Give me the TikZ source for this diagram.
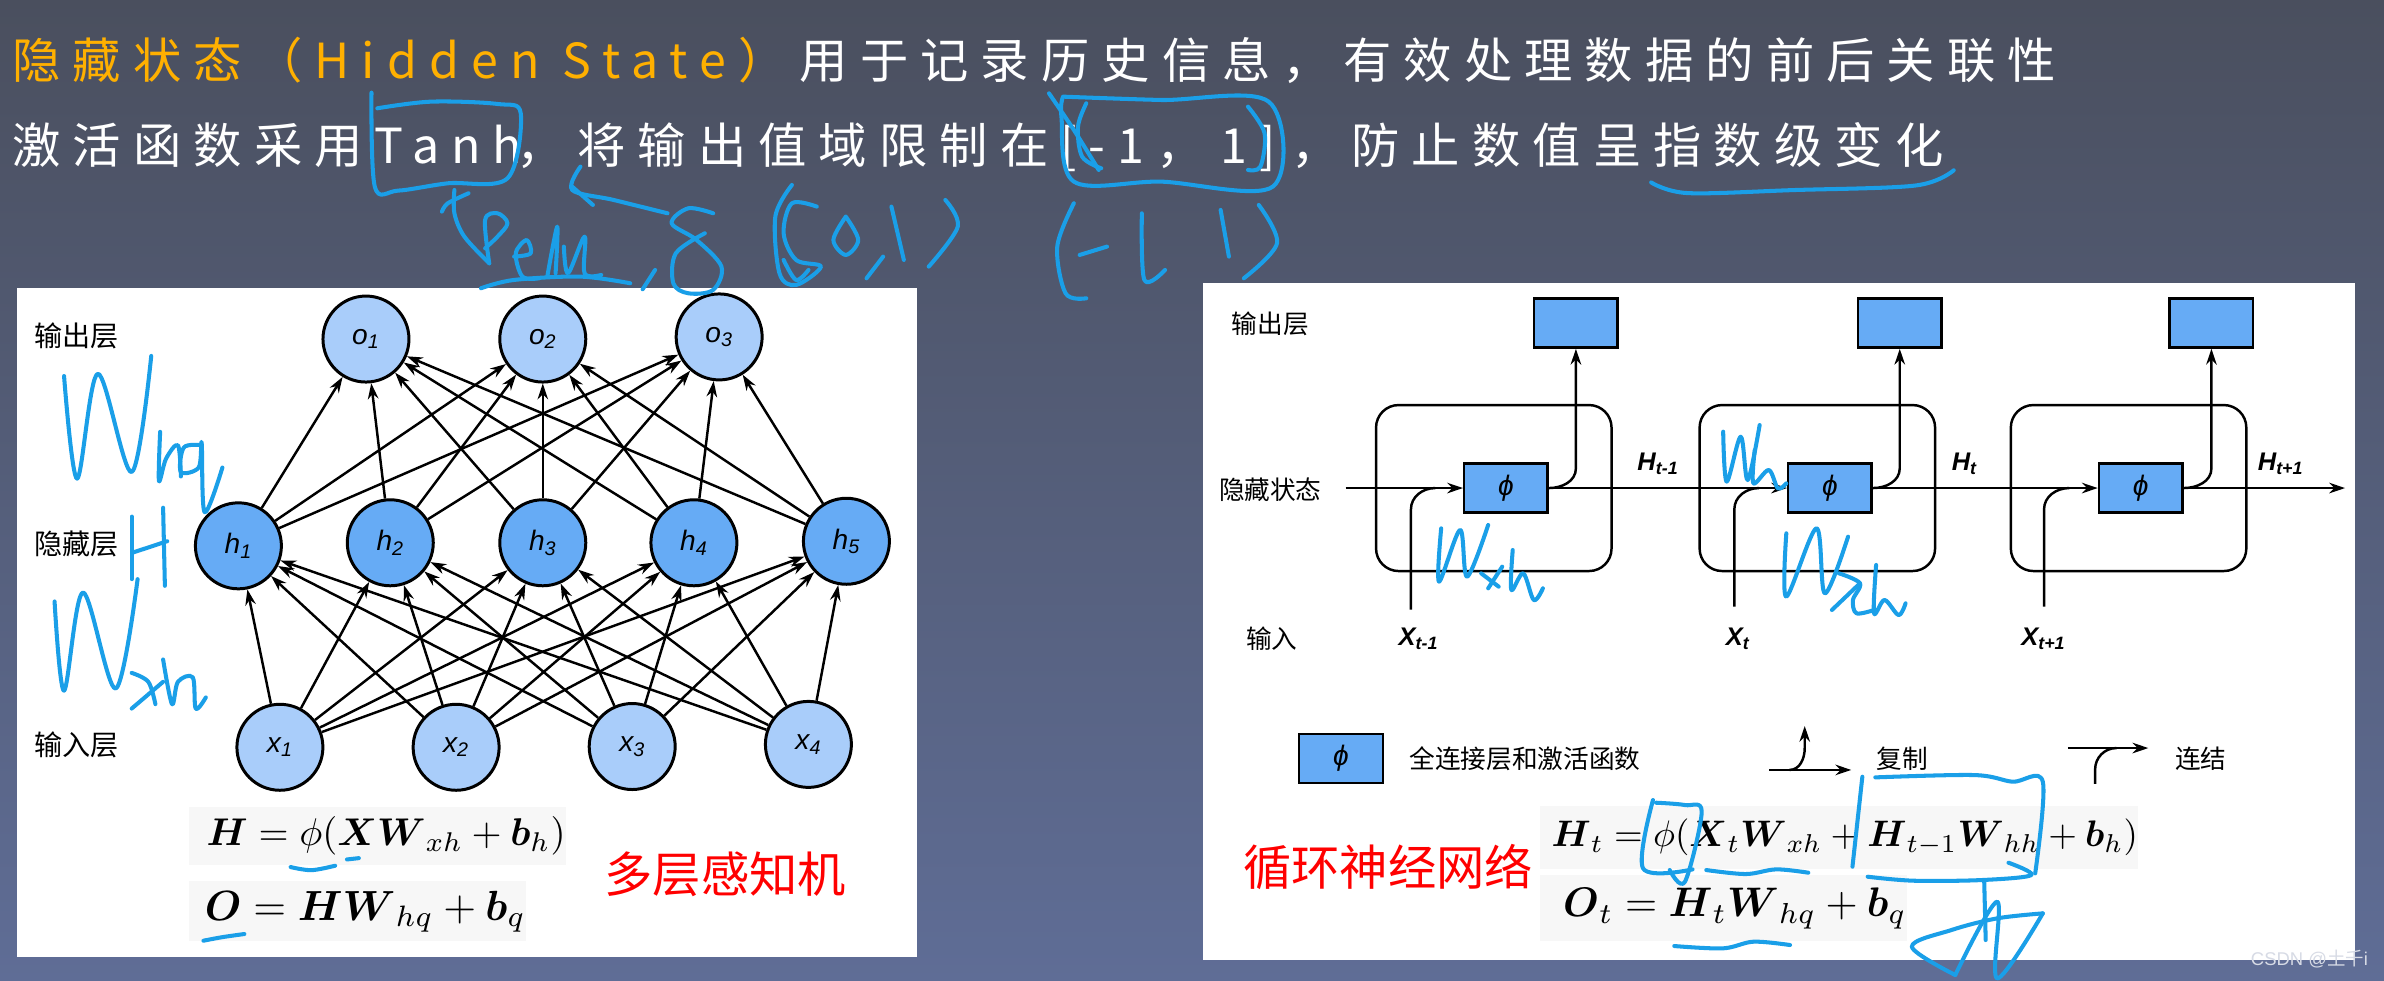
\documentclass[tikz,border=0pt]{standalone}
\usepackage{amsmath}
\usepackage{amssymb}
\usepackage{xcolor}
\usepackage{fontspec}
\usepackage{tikz}
\usetikzlibrary{arrows.meta, positioning}

\setmainfont{Liberation Sans}
\newfontfamily\cjk{Noto Sans CJK SC}
\newfontfamily\titlefont[LetterSpace=25]{Noto Sans CJK SC}
\definecolor{bgtop}{HTML}{4A4F5E}
\definecolor{bgbottom}{HTML}{5F6D96}
\definecolor{lightnode}{HTML}{A9CDFA}
\definecolor{darknode}{HTML}{66ABF5}
\definecolor{inkblue}{HTML}{1A9FE8}
\definecolor{titleorange}{HTML}{FFB000}

\begin{document}
\begin{tikzpicture}[
    x=0.03041cm, y=-0.03041cm,
    panel/.style={rectangle, fill=white, inner sep=0pt},
    titleline/.style={anchor=west, inner sep=0pt, text=white, font=\titlefont\fontsize{27.5}{32}\selectfont},
    caption/.style={inner sep=0pt, font=\cjk\fontsize{14.6}{17}\selectfont},
    bigcaption/.style={inner sep=0pt, font=\cjk\fontsize{16}{18}\selectfont},
    bigred/.style={inner sep=0pt, text=red, font=\cjk\fontsize{27.5}{32}\selectfont},
    inputnode/.style={circle, draw, line width=1.7pt, fill=lightnode, minimum size=1.72cm, inner sep=0pt, font=\itshape\fontsize{16}{18}\selectfont},
    hiddennode/.style={inputnode, fill=darknode},
    cell/.style={rectangle, draw, line width=1.4pt, rounded corners=0.45cm, minimum width=4.71cm, minimum height=3.32cm},
    phibox/.style={rectangle, draw, line width=1.4pt, fill=darknode, minimum width=1.67cm, minimum height=0.98cm, font=\itshape\fontsize{16}{18}\selectfont},
    stateitem/.style={inner sep=0pt, font=\bfseries\itshape\fontsize{14.5}{17}\selectfont},
    formula/.style={inner sep=0pt, fill=black!3, align=right},
    arrow/.style={line width=1.4pt, ->, >={Stealth[length=9pt, width=6pt]}},
    ink/.style={line width=2.3pt, draw=inkblue, line cap=round, line join=round, smooth, tension=0.55}
]
    \useasboundingbox (0,0) rectangle (1568,645);
    \shade[top color=bgtop, bottom color=bgbottom] (0,0) rectangle (1568,645);

    % the two lines of heading
    \node (headone) [titleline] at (8,40) {{\color{titleorange}隐藏状态（Hidden State）}\kern7.5pt 用于记录历史信息，有效处理数据的前后关联性};
    \node (headtwo) [titleline] at (8,97) {激活函数采用Tanh\kern-3pt ，将输出值域限制在[-1，\kern8.6pt 1]\kern9pt ，防止数值呈指数级变化};

    % left panel
    \node (mlppanel) [panel, minimum width=18.0cm, minimum height=13.38cm] at (307.3,409.3) {};
    \node (mlpout) [bigcaption] at (50.5,221) {输出层};
    \node (mlphid) [bigcaption] at (50.5,358) {隐藏层};
    \node (mlpin) [bigcaption] at (50.5,490) {输入层};

    \node (o1) [inputnode] at (240.7,223) {o\textsubscript{1}};
    \node (o2) [inputnode] at (357,223) {o\textsubscript{2}};
    \node (o3) [inputnode] at (473,221.6) {o\textsubscript{3}};
    \node (h1) [hiddennode] at (156.8,359) {h\textsubscript{1}};
    \node (h2) [hiddennode] at (256.7,357) {h\textsubscript{2}};
    \node (h3) [hiddennode] at (357,357) {h\textsubscript{3}};
    \node (h4) [hiddennode] at (456.4,357) {h\textsubscript{4}};
    \node (h5) [hiddennode] at (556.7,356) {h\textsubscript{5}};
    \node (x1) [inputnode] at (184.1,491.5) {x\textsubscript{1}};
    \node (x2) [inputnode] at (300,491.5) {x\textsubscript{2}};
    \node (x3) [inputnode] at (415.8,491) {x\textsubscript{3}};
    \node (x4) [inputnode] at (531.7,489.6) {x\textsubscript{4}};

    \foreach \hid in {1,...,5} {
        \foreach \inp in {1,...,4}
            \draw [arrow] (x\inp) -- (h\hid);
        \foreach \out in {1,2,3}
            \draw [arrow] (h\hid) -- (o\out);
    }

    \node (mlpeqone) [formula, text width=7.54cm, minimum height=1.15cm] at (248,550) {\scalebox{2.2}{$\boldsymbol{H}=\phi(\boldsymbol{X}\boldsymbol{W}_{xh}+\boldsymbol{b}_h)$}};
    \node (mlpeqtwo) [formula, text width=6.75cm, minimum height=1.2cm] at (235,599.5) {\scalebox{2.4}{$\boldsymbol{O}=\boldsymbol{H}\boldsymbol{W}_{hq}+\boldsymbol{b}_q$}};
    \node (mlpname) [bigred] at (477,575) {多层感知机};

    % right panel
    \node (rnnpanel) [panel, minimum width=23.04cm, minimum height=13.53cm] at (1170,408.7) {};
    \node (rnnout) [caption] at (835.5,213) {输出层};
    \node (rnnhid) [caption] at (835.5,322) {隐藏状态};
    \node (rnnin) [caption] at (836.5,420) {输入};

    \node (cella) [cell] at (982.5,321) {};
    \node (cellb) [cell] at (1195.3,321) {};
    \node (cellc) [cell] at (1400,321) {};
    \node (phia) [phibox] at (990.5,321) {ϕ};
    \node (phib) [phibox] at (1203.6,321) {ϕ};
    \node (phic) [phibox] at (1408,321) {ϕ};
    \node (outa) [phibox] at (1036.5,212.5) {};
    \node (outb) [phibox] at (1249.5,212.5) {};
    \node (outc) [phibox] at (1454.5,212.5) {};

    \coordinate (hidstart) at (885,321);
    \coordinate (hidend) at (1542.4,321);
    \draw [arrow] (hidstart) -- (phia);
    \draw [arrow] (phia) -- (phib);
    \draw [arrow] (phib) -- (phic);
    \draw [arrow] (phic) -- (hidend);

    % copy branches up to the output boxes
    \coordinate (bendoa) at (1036.5,308);
    \coordinate (bendob) at (1249.5,308);
    \coordinate (bendoc) at (1454.5,308);
    \draw [arrow] (phia.east) to[out=0, in=-90] (bendoa) -- (outa);
    \draw [arrow] (phib.east) to[out=0, in=-90] (bendob) -- (outb);
    \draw [arrow] (phic.east) to[out=0, in=-90] (bendoc) -- (outc);

    % inputs joining the hidden line
    \coordinate (ina) at (928,401);
    \coordinate (inb) at (1140.7,399);
    \coordinate (inc) at (1344.4,399);
    \coordinate (benda) at (928,335);
    \coordinate (bendb) at (1140.7,335);
    \coordinate (bendc) at (1344.4,335);
    \coordinate (joina) at (944,321);
    \coordinate (joinb) at (1157,321);
    \coordinate (joinc) at (1361,321);
    \draw [line width=1.4pt] (ina) -- (benda) to[out=90, in=180] (joina);
    \draw [line width=1.4pt] (inb) -- (bendb) to[out=90, in=180] (joinb);
    \draw [line width=1.4pt] (inc) -- (bendc) to[out=90, in=180] (joinc);

    \node (hidprev) [stateitem] at (1090.5,305) {H\textsubscript{t-1}};
    \node (hidnow) [stateitem] at (1292,305) {H\textsubscript{t}};
    \node (hidnext) [stateitem] at (1500,305) {H\textsubscript{t+1}};
    \node (inprev) [stateitem] at (933,420) {X\textsubscript{t-1}};
    \node (innow) [stateitem] at (1143,420) {X\textsubscript{t}};
    \node (innext) [stateitem] at (1344,420) {X\textsubscript{t+1}};

    % legend
    \node (keyphi) [phibox] at (882,498.7) {ϕ};
    \node (keyphitext) [caption, anchor=west] at (926.8,499) {全连接层和激活函数};
    \coordinate (keya) at (1163.5,506.4);
    \coordinate (keyb) at (1217.6,506.4);
    \coordinate (keyc) at (1177,506.4);
    \coordinate (keyd) at (1187,492);
    \coordinate (keye) at (1187,477.5);
    \draw [arrow] (keya) -- (keyb);
    \draw [arrow] (keyc) to[out=0, in=-90] (keyd) -- (keye);
    \node (keycopy) [caption] at (1251,499) {复制};
    \coordinate (keyf) at (1360,492);
    \coordinate (keyg) at (1413,492);
    \coordinate (keyh) at (1378,515.6);
    \coordinate (keyi) at (1378,506);
    \coordinate (keyj) at (1392,492);
    \draw [arrow] (keyf) -- (keyg);
    \draw [line width=1.4pt] (keyh) -- (keyi) to[out=90, in=180] (keyj);
    \node (keyjoin) [caption] at (1447.5,499) {连结};

    \node (rnneqone) [formula, text width=11.96cm, minimum height=1.26cm] at (1209.5,551) {\scalebox{2.1}{$\boldsymbol{H}_t=\phi(\boldsymbol{X}_t\boldsymbol{W}_{xh}+\boldsymbol{H}_{t-1}\boldsymbol{W}_{hh}+\boldsymbol{b}_h)$}};
    \node (rnneqtwo) [formula, text width=7.33cm, minimum height=1.32cm] at (1133.5,597.5) {\scalebox{2.35}{$\boldsymbol{O}_t=\boldsymbol{H}_t\boldsymbol{W}_{hq}+\boldsymbol{b}_q$}};
    \node (rnnname) [bigred] at (913,570) {循环神经网络};

    \node (mark) [inner sep=0pt, text=white!75!bgbottom, font=\fontsize{10.5}{12}\selectfont] at (1519,631) {CSDN @{\cjk 土千}i};

    % strokes written over the first heading zone
    \begin{scope}[xscale=0.5454, yscale=0.2192]
        \draw[ink] plot coordinates {(448,278) (452,560) (480,572) (540,550) (612,535) (628,340) (600,312) (520,305) (455,325)};
        \draw[ink] plot coordinates {(1265,280) (1295,390) (1325,510)};
        \draw[ink] plot coordinates {(1282,290) (1400,300) (1530,305) (1535,560) (1400,545) (1295,545) (1280,350) (1282,290)};
        \draw[ink] plot coordinates {(1310,310) (1300,380) (1305,470) (1328,505)};
        \draw[ink] plot coordinates {(1505,320) (1525,400) (1520,500) (1505,510)};
        \draw[ink] plot coordinates {(565,580) (540,610) (533,635)};
        \draw[ink] plot coordinates {(548,570) (548,640) (560,710) (590,790)};
        \draw[ink] plot coordinates {(590,790) (585,660) (600,640) (612,670) (600,710) (585,745)};
        \draw[ink] plot coordinates {(620,770) (640,760) (635,720) (622,760) (630,830) (650,835)};
        \draw[ink] plot coordinates {(660,830) (672,680) (670,820)};
        \draw[ink] plot coordinates {(680,740) (685,820) (705,710) (705,820) (725,825)};
        \draw[ink] plot coordinates {(580,865) (620,840) (700,830) (760,850)};
        \draw[ink] plot coordinates {(790,810) (775,868)};
        \draw[ink] plot coordinates {(805,640) (740,600) (690,570) (700,500)};
        \draw[ink] plot coordinates {(690,560) (715,615)};
        \draw[ink] plot coordinates {(860,640) (830,625) (810,670) (840,720) (870,800) (860,870) (830,880) (812,850) (815,760) (850,700)};
        \draw[ink] plot coordinates {(955,555) (935,650) (940,820) (960,855) (990,800) (960,780) (945,700) (955,610) (985,620)};
        \draw[ink] plot coordinates {(945,780) (960,840) (975,810)};
        \draw[ink] plot coordinates {(1020,650) (1005,720) (1020,765) (1035,720) (1020,650)};
        \draw[ink] plot coordinates {(1065,770) (1045,835)};
        \draw[ink] plot coordinates {(1075,620) (1090,780)};
        \draw[ink] plot coordinates {(1140,600) (1155,680) (1120,800)};
        \draw[ink] plot coordinates {(1295,610) (1275,740) (1285,880) (1310,895)};
        \draw[ink] plot coordinates {(1302,765) (1335,740)};
        \draw[ink] plot coordinates {(1377,640) (1380,840) (1405,810)};
        \draw[ink] plot coordinates {(1472,630) (1482,770)};
        \draw[ink] plot coordinates {(1518,615) (1540,730) (1500,835)};
    \end{scope}
    \draw[ink] plot coordinates {(1086,120) (1110,127) (1180,125) (1260,122) (1285,112)};

    % strokes over the left panel
    \begin{scope}[shift={(0,184.2)}, xscale=0.3901, yscale=0.2936]
        \draw[ink] plot coordinates {(108,215) (130,445) (165,210) (222,430) (255,170)};
        \draw[ink] plot coordinates {(270,340) (268,450) (280,400) (300,370) (305,440)};
        \draw[ink] plot coordinates {(340,370) (310,375) (305,430) (335,420) (340,365) (345,520) (375,420)};
        \draw[ink] plot coordinates {(222,530) (222,670)};
        \draw[ink] plot coordinates {(275,510) (278,685)};
        \draw[ink] plot coordinates {(225,610) (282,585)};
        \draw[ink] plot coordinates {(92,720) (108,920) (140,700) (195,915) (232,670)};
        \draw[ink] plot coordinates {(222,880) (250,900) (262,950)};
        \draw[ink] plot coordinates {(275,900) (222,960)};
        \draw[ink] plot coordinates {(275,850) (290,950) (300,900) (325,890) (330,960) (347,935)};
        \draw[ink] plot coordinates {(490,1315) (525,1322) (565,1312)};
        \draw[ink] plot coordinates {(585,1298) (605,1295)};
        \draw[ink] plot coordinates {(343,1480) (375,1472) (412,1465)};
    \end{scope}

    % strokes over the right panel
    \begin{scope}[shift={(782.7,184.2)}, xscale=0.4614, yscale=0.2192]
        \draw[ink] plot coordinates {(358,745) (355,905) (385,750) (395,890) (425,735)};
        \draw[ink] plot coordinates {(415,880) (440,920)};
        \draw[ink] plot coordinates {(445,860) (425,925)};
        \draw[ink] plot coordinates {(460,810) (458,930) (475,880) (490,960) (503,925)};
        \draw[ink] plot coordinates {(760,455) (765,605) (785,470) (795,600) (812,435)};
        \draw[ink] plot coordinates {(805,510) (803,610) (825,570) (838,625) (850,610)};
        \draw[ink] plot coordinates {(850,760) (850,950) (893,745) (905,940) (938,770)};
        \draw[ink] plot coordinates {(925,880) (955,910) (945,960) (950,1000) (975,990)};
        \draw[ink] plot coordinates {(955,910) (915,990)};
        \draw[ink] plot coordinates {(978,855) (975,1000) (990,960) (1010,1005) (1020,970)};
    \end{scope}
    \begin{scope}[shift={(782.7,447.3)}, xscale=0.5008, yscale=0.2192]
        \draw[ink] plot coordinates {(883,290) (870,560)};
        \draw[ink] plot coordinates {(900,292) (1030,285) (1080,305) (1120,305) (1110,580)};
        \draw[ink] plot coordinates {(890,590) (950,602) (1040,600) (1105,585) (1075,548)};
        \draw[ink] plot coordinates {(608,360) (595,565) (660,568)};
        \draw[ink] plot coordinates {(612,368) (650,375) (672,395) (650,605) (630,570)};
        \draw[ink] plot coordinates {(678,570) (730,582) (770,568) (812,578)};
        \draw[ink] plot coordinates {(636,798) (700,805) (740,785) (788,795)};
        \draw[ink] plot coordinates {(1043,600) (1045,780)};
        \draw[ink] plot coordinates {(1120,700) (1060,715) (1000,750) (948,800) (1005,885)};
        \draw[ink] plot coordinates {(1005,885) (1060,665) (1060,895) (1120,700)};
    \end{scope}
\end{tikzpicture}
\end{document}
